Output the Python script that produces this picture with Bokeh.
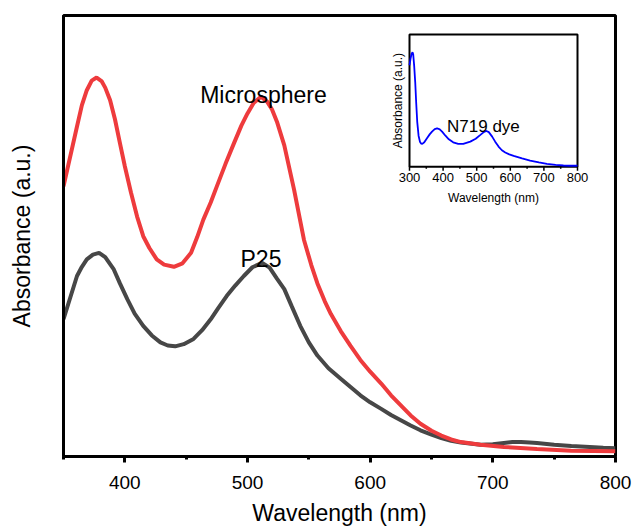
import math
from bokeh.plotting import figure
from bokeh.models import Range1d, FixedTicker, Label
from bokeh.core.properties import value
from bokeh.embed import file_html
from bokeh.resources import INLINE

FONT = "Liberation Sans"

# ---- main data ----
red_wl = [350, 361, 365, 369, 373, 377, 381, 384, 388, 392, 396, 400, 405, 410,
          415, 420, 426, 432, 440, 447, 454, 459, 464, 470, 475, 482, 489, 495,
          500, 505, 511, 516, 520, 524, 530, 538, 546, 552, 557, 563, 568, 576,
          584, 592, 600, 609, 617, 625, 633, 641, 650, 658, 666, 674, 690, 709,
          736, 764, 800]
red_abs = [0.609, 0.746, 0.795, 0.829, 0.851, 0.858, 0.850, 0.835, 0.806, 0.762,
           0.708, 0.655, 0.595, 0.540, 0.495, 0.468, 0.442, 0.430, 0.425, 0.433,
           0.457, 0.493, 0.533, 0.572, 0.609, 0.660, 0.708, 0.748, 0.776, 0.800,
           0.814, 0.803, 0.785, 0.757, 0.703, 0.601, 0.487, 0.429, 0.387, 0.346,
           0.317, 0.278, 0.244, 0.212, 0.185, 0.158, 0.131, 0.108, 0.085, 0.066,
           0.050, 0.039, 0.030, 0.024, 0.018, 0.013, 0.008, 0.004, 0.003]

gray_wl = [350, 361, 365, 369, 374, 379, 384, 391, 396, 402, 408, 415, 422, 429,
           435, 441, 448, 456, 463, 470, 476, 483, 490, 497, 504, 512, 518, 524,
           530, 536, 543, 550, 557, 566, 576, 584, 592, 600, 609, 617, 625, 633,
           641, 650, 658, 666, 674, 690, 700, 709, 716, 723, 730, 736, 750, 764,
           790, 800]
gray_abs = [0.305, 0.404, 0.425, 0.442, 0.453, 0.457, 0.447, 0.419, 0.387, 0.351,
            0.318, 0.290, 0.268, 0.252, 0.245, 0.243, 0.248, 0.260, 0.280, 0.305,
            0.330, 0.358, 0.382, 0.404, 0.424, 0.434, 0.423, 0.398, 0.374, 0.335,
            0.290, 0.252, 0.222, 0.193, 0.169, 0.150, 0.131, 0.115, 0.100, 0.086,
            0.074, 0.062, 0.051, 0.041, 0.033, 0.027, 0.023, 0.018, 0.019, 0.022,
            0.024, 0.024, 0.023, 0.022, 0.018, 0.015, 0.011, 0.010]

# ---- inset data (N719 dye) ----
dye_wl = [300, 303, 306, 309, 311, 314, 317, 320, 323, 327, 331, 335, 338, 344,
          352, 360, 367, 375, 382, 390, 397, 407, 417, 430, 445, 460, 481, 497,
          511, 522, 529, 536, 546, 555, 565, 575, 585, 597, 610, 635, 659, 685,
          709, 735, 758, 780, 800]
dye_abs = [0.767, 0.815, 0.852, 0.865, 0.850, 0.760, 0.640, 0.480, 0.340, 0.235,
           0.190, 0.175, 0.173, 0.185, 0.216, 0.245, 0.266, 0.285, 0.291, 0.283,
           0.266, 0.235, 0.208, 0.185, 0.173, 0.174, 0.190, 0.212, 0.241, 0.264,
           0.271, 0.262, 0.228, 0.190, 0.153, 0.125, 0.108, 0.094, 0.083, 0.064,
           0.047, 0.033, 0.023, 0.015, 0.010, 0.008, 0.008]

main_ticks = [400, 500, 600, 700, 800]
main_minor = [350, 450, 550, 650, 750]
inset_ticks = [300, 400, 500, 600, 700, 800]
inset_minor = [350, 450, 550, 650, 750]
inset_tick_labels = ["300", "400", "500", "600", "700", "800"]

# ---- layout geometry (screen px) ----
M_L, M_T, M_FW, M_FH = 63, 15, 552, 443          # main frame
I_L, I_T, I_FW, I_FH = 409, 34, 168, 133          # inset frame
IX0, IX1, IY0, IY1 = 300.0, 800.0, 0.0, 1.0       # inset data window

# ---- main figure ----
p = figure(width=633, height=528,
           min_border_left=M_L, min_border_top=M_T, min_border_right=633 - M_L - M_FW,
           min_border_bottom=528 - M_T - M_FH,
           x_range=Range1d(350, 800), y_range=Range1d(-0.009, 1.0),
           output_backend="svg", toolbar_location=None, tools="")
p.grid.visible = False
p.outline_line_color = "black"
p.outline_line_width = 3
p.outline_line_alpha = 1.0

p.line(gray_wl, gray_abs, line_color="#474747", line_width=4)
p.line(red_wl, red_abs, line_color="#EE3B3D", line_width=4)

xa = p.xaxis[0]
xa.ticker = FixedTicker(ticks=main_ticks, minor_ticks=main_minor)
xa.axis_line_width = 3
xa.major_tick_line_width = 3
xa.minor_tick_line_width = 3
xa.major_tick_out = 6
xa.major_tick_in = 0
xa.minor_tick_out = 3
xa.minor_tick_in = 0
xa.major_label_text_font = FONT
xa.major_label_text_font_size = "19px"
xa.major_label_text_color = "black"
xa.major_label_standoff = 13
xa.axis_label = "Wavelength (nm)"
xa.axis_label_text_font = FONT
xa.axis_label_text_font_size = "23px"
xa.axis_label_text_font_style = "normal"
xa.axis_label_text_color = "black"
xa.axis_label_standoff = 8

ya = p.yaxis[0]
ya.ticker = FixedTicker(ticks=[])
ya.axis_line_width = 3
ya.major_tick_line_color = None
ya.minor_tick_line_color = None
ya.major_label_text_font_size = "0px"
ya.axis_label = "Absorbance (a.u.)"
ya.axis_label_text_font = FONT
ya.axis_label_text_font_size = "23px"
ya.axis_label_text_font_style = "normal"
ya.axis_label_text_color = "black"
ya.axis_label_standoff = 29

p.add_layout(Label(x=513, y=0.818, text="Microsphere", text_align="center",
                   text_baseline="alphabetic", text_font=FONT,
                   text_font_size="23px", text_color="black"))
p.add_layout(Label(x=511, y=0.443, text="P25", text_align="center",
                   text_baseline="alphabetic", text_font=FONT,
                   text_font_size="23px", text_color="black"))

# ---- inset: its own scales placed over a sub-rectangle of the main frame ----
xpp = (IX1 - IX0) / I_FW          # nm per px
ypp = (IY1 - IY0) / I_FH          # unit per px
p.extra_x_ranges = {"ix": Range1d(IX0 - (I_L - M_L) * xpp,
                                  IX1 + (M_L + M_FW - I_L - I_FW) * xpp)}
p.extra_y_ranges = {"iy": Range1d(IY0 - (M_T + M_FH - I_T - I_FH) * ypp,
                                  IY1 + (I_T - M_T) * ypp)}
R = dict(x_range_name="ix", y_range_name="iy")

p.quad(left=[IX0], right=[IX1], bottom=[IY0], top=[IY1], fill_color="white",
       line_color="black", line_width=2, **R)
p.line(dye_wl, dye_abs, line_color="#0000FF", line_width=1.8, **R)

# inset ticks (outward, below the inset frame)
p.segment(x0=inset_ticks, y0=[IY0] * len(inset_ticks), x1=inset_ticks,
          y1=[IY0 - 4 * ypp] * len(inset_ticks), line_color="black",
          line_width=1.5, **R)
p.segment(x0=inset_minor, y0=[IY0] * len(inset_minor), x1=inset_minor,
          y1=[IY0 - 2 * ypp] * len(inset_minor), line_color="black",
          line_width=1.5, **R)
p.text(x=inset_ticks, y=[IY0 - 6 * ypp] * len(inset_ticks), text=inset_tick_labels,
       text_align="center", text_baseline="top", text_font=value(FONT),
       text_font_size="13px", text_color="black", **R)

p.add_layout(Label(x=(IX0 + IX1) / 2, y=IY0 - 31 * ypp, text="Wavelength (nm)",
                   text_align="center", text_baseline="alphabetic",
                   text_font=FONT, text_font_size="12px", text_color="black", **R))
p.add_layout(Label(x=IX0 - 12 * xpp, y=(IY0 + IY1) / 2, text="Absorbance (a.u.)",
                   angle=math.pi / 2, text_align="center", text_baseline="middle",
                   text_font=FONT, text_font_size="12px", text_color="black", **R))
p.add_layout(Label(x=520, y=0.308, text="N719 dye", text_align="center",
                   text_baseline="alphabetic", text_font=FONT,
                   text_font_size="17px", text_color="black", **R))

open("out.html", "w").write(file_html(p, INLINE))
